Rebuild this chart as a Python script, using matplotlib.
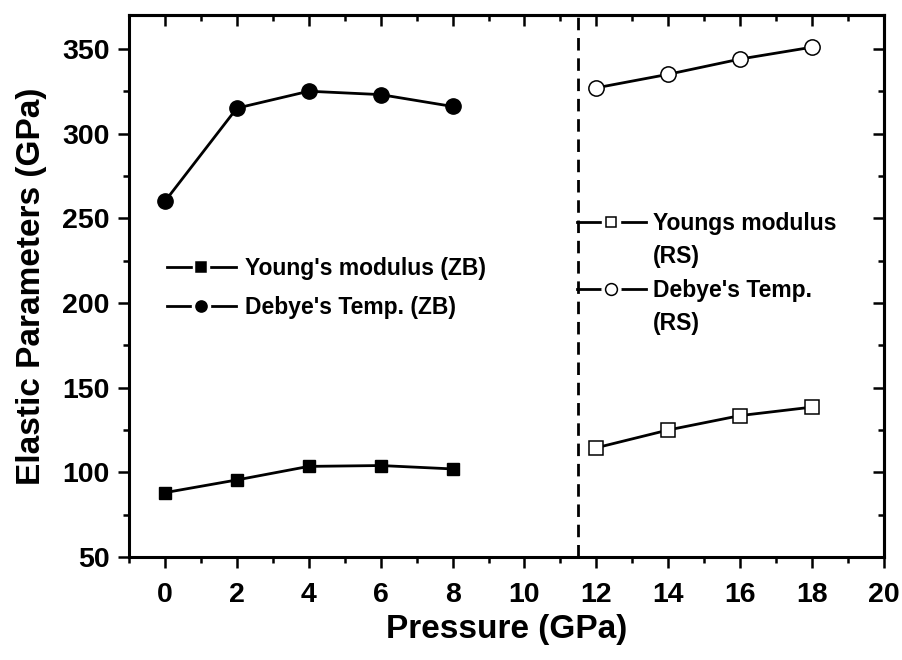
import matplotlib
matplotlib.use('Agg')
import matplotlib.pyplot as plt
from matplotlib.ticker import MultipleLocator
from matplotlib.lines import Line2D
from matplotlib.legend_handler import HandlerTuple

plt.rcParams['font.family'] = ['Liberation Sans', 'DejaVu Sans']
plt.rcParams['font.weight'] = 'bold'

# ZB phase
p_zb = [0, 2, 4, 6, 8]
young_zb = [88, 95.5, 103.5, 104, 102]
debye_zb = [260, 315, 325, 323, 316]

# RS phase
p_rs = [12, 14, 16, 18]
young_rs = [114.5, 125, 133.5, 138.5]
debye_rs = [327, 335, 344, 351]

transition = 11.5

W, H = 903, 660
fig = plt.figure(figsize=(W / 100, H / 100), dpi=100)
ax = fig.add_axes([129/W, 1 - 557/H, (884-129)/W, (557-15)/H])

lw = 2
ax.plot(p_zb, young_zb, '-s', color='black', lw=lw, markersize=9)
ax.plot(p_zb, debye_zb, '-o', color='black', lw=lw, markersize=11)
ax.plot(p_rs, young_rs, '-s', color='black', lw=lw, markersize=9.5,
        markerfacecolor='white', markeredgewidth=1.1)
ax.plot(p_rs, debye_rs, '-o', color='black', lw=lw, markersize=11,
        markerfacecolor='white', markeredgewidth=1.1)

ax.axvline(transition, color='black', lw=2, linestyle=(0, (4.5, 2.8)))

ax.set_xlim(-1, 20)
ax.set_ylim(50, 370)
ax.xaxis.set_major_locator(MultipleLocator(2))
ax.xaxis.set_minor_locator(MultipleLocator(1))
ax.yaxis.set_major_locator(MultipleLocator(50))
ax.yaxis.set_minor_locator(MultipleLocator(25))

ax.tick_params(which='both', direction='out', width=1.8, labelsize=20.5)
ax.tick_params(axis='x', pad=10)
ax.tick_params(axis='y', pad=6)
ax.tick_params(which='major', length=8)
ax.tick_params(which='minor', length=4)
for s in ax.spines.values():
    s.set_linewidth(2.2)

# inward ticks on top and right
top = ax.secondary_xaxis('top')
top.xaxis.set_major_locator(MultipleLocator(2))
top.xaxis.set_minor_locator(MultipleLocator(1))
top.tick_params(which='both', direction='in', width=1.8, labeltop=False)
top.tick_params(which='major', length=8)
top.tick_params(which='minor', length=4)
right = ax.secondary_yaxis('right')
right.yaxis.set_major_locator(MultipleLocator(50))
right.yaxis.set_minor_locator(MultipleLocator(25))
right.tick_params(which='both', direction='in', width=1.8, labelright=False)
right.tick_params(which='major', length=8)
right.tick_params(which='minor', length=4)
for a in (top, right):
    for s in a.spines.values():
        s.set_linewidth(2.2)

ax.set_xlabel('Pressure (GPa)', fontsize=24, fontweight='bold')
ax.set_ylabel('Elastic Parameters (GPa)', fontsize=24, fontweight='bold')
ax.xaxis.set_label_coords(0.5, -0.105)
ax.yaxis.set_label_coords(-0.108, 0.5)


# legend handles: line with a white gap round the marker
def handle(marker, face, size):
    line = Line2D([], [], color='black', lw=2)
    gap = Line2D([], [], marker=marker, color='white', markersize=size + 5,
                 linestyle='none')
    mk = Line2D([], [], marker=marker, color='black', markerfacecolor=face,
                markersize=size, markeredgewidth=1.1, linestyle='none')
    return (line, gap, mk)


blank = Line2D([], [], linestyle='none')
leg_kw = dict(frameon=False, fontsize=16.5, handlelength=3.0, borderaxespad=0,
              borderpad=0, loc='upper left', bbox_transform=fig.transFigure,
              handler_map={tuple: HandlerTuple(ndivide=1)})

leg1 = ax.legend(handles=[handle('s', 'black', 7), handle('o', 'black', 8)],
                 labels=["Young's modulus (ZB)", "Debye's Temp. (ZB)"],
                 bbox_to_anchor=(167/W, 1 - 257/H),
                 handletextpad=0.42, labelspacing=0.68, **leg_kw)
ax.add_artist(leg1)

ax.legend(handles=[handle('s', 'white', 7.5), blank, handle('o', 'white', 8.5), blank],
          labels=['Youngs modulus', '(RS)', "Debye's Temp.", '(RS)'],
          bbox_to_anchor=(577/W, 1 - 212/H),
          handletextpad=0.3, labelspacing=0.45, **leg_kw)

fig.savefig('out.png', dpi=100)
